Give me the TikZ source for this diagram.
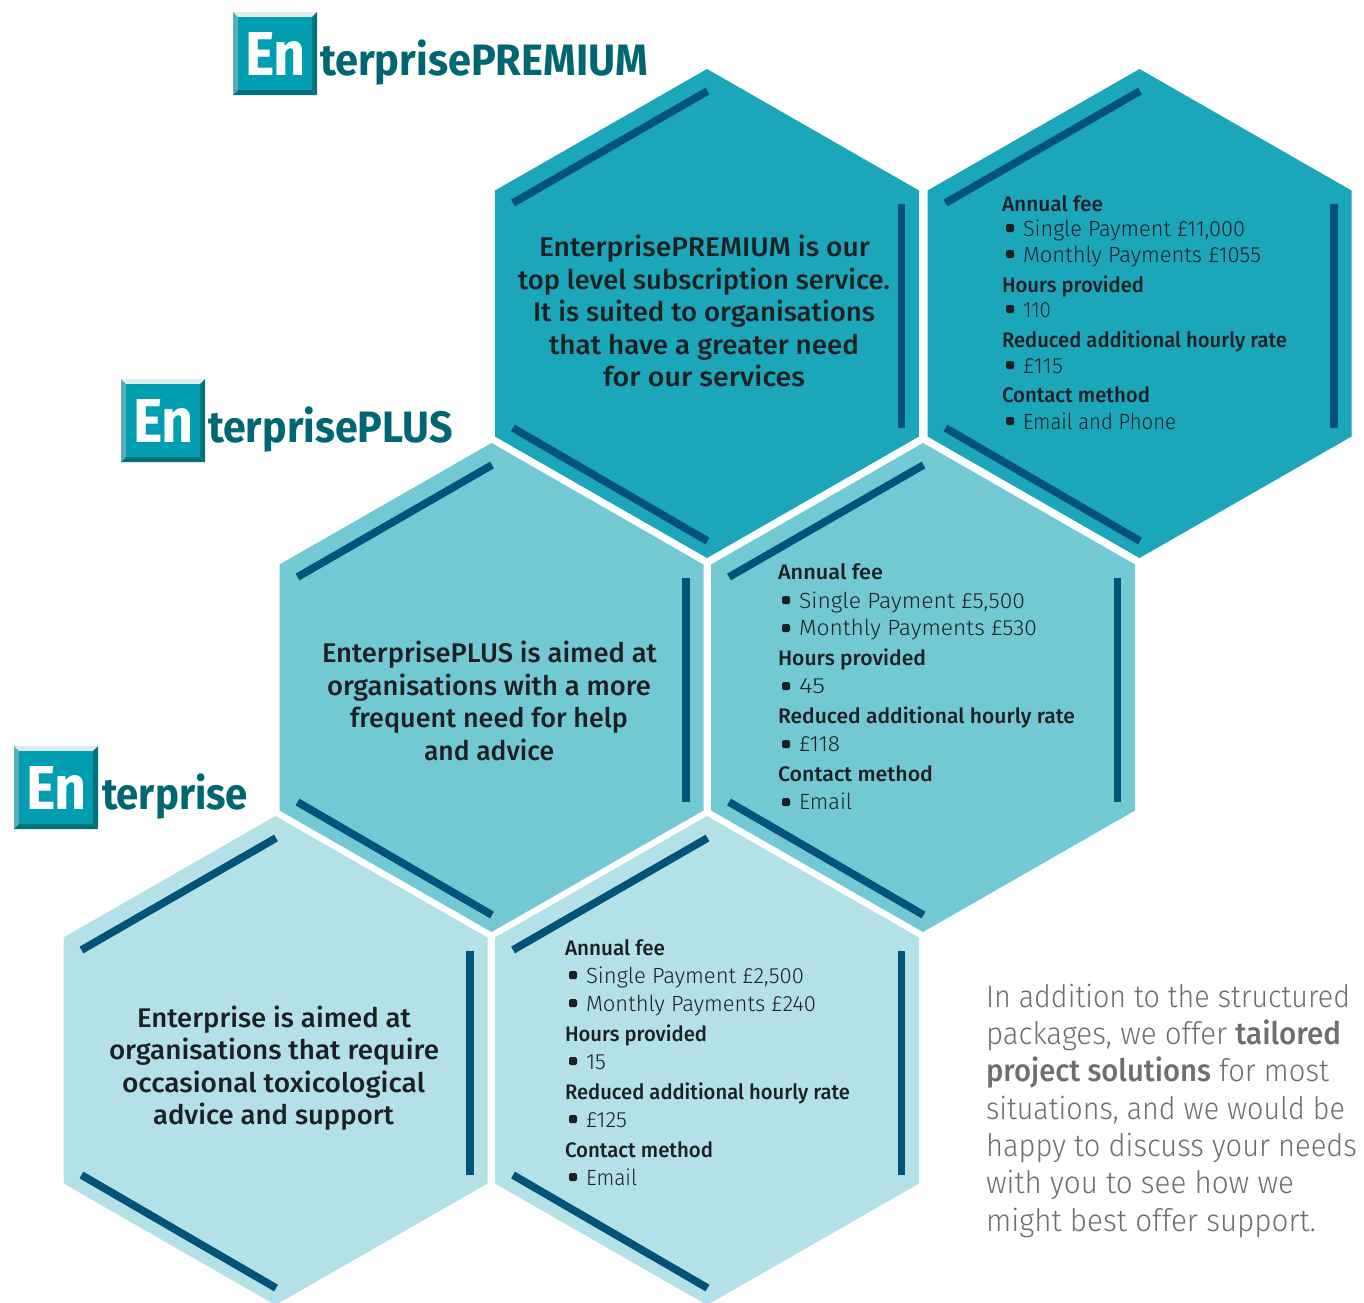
\documentclass[tikz,border=0pt]{standalone}
\usepackage{fontspec}
\usepackage{graphicx}
\setmainfont{Fira Sans}
\newfontfamily\litefont{Fira Sans Light}
\newfontfamily\medfont{Fira Sans Medium}
\newfontfamily\boldfont{Fira Sans Bold}
\definecolor{hexprem}{HTML}{1BA6B9}
\definecolor{hexplus}{HTML}{73C9D3}
\definecolor{hexent}{HTML}{B4E1E7}
\definecolor{accentbar}{HTML}{02527A}
\definecolor{inktext}{HTML}{1D2022}
\definecolor{greytext}{HTML}{6D6E71}
\definecolor{logoteal}{HTML}{006772}
\definecolor{logoface}{HTML}{009EB0}
\definecolor{bevtop}{HTML}{DFECEF}
\definecolor{bevleft}{HTML}{5AACBC}
\definecolor{bevright}{HTML}{02727F}
\definecolor{bevbot}{HTML}{026F7C}
\newsavebox\fitbox
\newcommand\fitw[2]{\sbox\fitbox{#2}\pgfmathsetmacro\fitr{#1/\wd\fitbox}\scalebox{\fitr}[1]{\usebox\fitbox}}
\tikzset{
  txt/.style={inner sep=0pt,outer sep=0pt,anchor=base west},
  headline/.style={txt,text=inktext,font=\medfont\fontsize{27}{30}\selectfont},
  boldline/.style={txt,text=inktext,font=\medfont\fontsize{21}{24}\selectfont},
  itemline/.style={txt,text=inktext,font=\litefont\fontsize{22}{24}\selectfont},
  paraline/.style={txt,text=greytext,font=\litefont\fontsize{31}{34}\selectfont},
  logobig/.style={txt,text=white,font=\boldfont\fontsize{62}{64}\selectfont},
  logotext/.style={txt,text=logoteal,font=\boldfont\fontsize{44}{46}\selectfont},
  bar/.style={draw=accentbar,line width=7.7pt},
  dot/.style={fill=inktext,rounded corners=1.5pt},
}
% hexagon with its three accent bars
\newcommand\hexa[3]{%
  \fill[#3] (#1,#2-244.5) -- (#1+212,#2-123) -- (#1+212,#2+123) -- (#1,#2+244.5)
    -- (#1-212,#2+123) -- (#1-212,#2-123) -- cycle;
  \draw[bar] (#1-194,#2-110.5) -- (#1+0.5,#2-222.5);
  \draw[bar] (#1-194,#2+114.5) -- (#1+0.5,#2+227.5);
  \draw[bar] (#1+194.5,#2-110) -- (#1+194.5,#2+114);
}
% text line: name, x, baseline, width, style, text
\newcommand\tl[6]{\node[#5] (#1) at (#2,#3) {\fitw{#4}{#6}};}
% bullet: x, y of its centre
\newcommand\bul[2]{\fill[dot] (#1-4,#2-4) rectangle (#1+4,#2+4);}
% logo: name, x left, y top, text x, text width, text
\newcommand\logo[6]{%
  \fill[bevtop] (#2,#3) -- (#2+84,#3) -- (#2+79,#3+5) -- (#2+5,#3+5) -- cycle;
  \fill[bevleft] (#2,#3) -- (#2+5,#3+5) -- (#2+5,#3+78) -- (#2,#3+83) -- cycle;
  \fill[bevright] (#2+84,#3) -- (#2+84,#3+83) -- (#2+79,#3+78) -- (#2+79,#3+5) -- cycle;
  \fill[bevbot] (#2,#3+83) -- (#2+5,#3+78) -- (#2+79,#3+78) -- (#2+84,#3+83) -- cycle;
  \fill[logoface] (#2+5,#3+5) rectangle (#2+79,#3+78);
  \node[logobig] (#1a) at (#2+12,#3+63) {\fitw{61}{En}};
  \node[logotext] (#1b) at (#4,#3+63) {\fitw{#5}{#6}};
}
\begin{document}
\begin{tikzpicture}[x=1pt,y=-1pt]
\useasboundingbox (0,0) rectangle (1364,1302);
\clip (0,0) rectangle (1364,1302);
\hexa{707}{313.5}{hexprem}
\hexa{1139.5}{313.5}{hexprem}
\hexa{491.5}{687.5}{hexplus}
\hexa{923}{687.5}{hexplus}
\hexa{275.5}{1060.5}{hexent}
\hexa{707}{1060.5}{hexent}
\logo{lp}{233}{12}{320}{328}{terprisePREMIUM}
\logo{lu}{121}{379}{208}{245}{terprisePLUS}
\logo{le}{14}{746}{102}{146}{terprise}
% premium
\tl{pa}{539}{256}{331}{headline}{EnterprisePREMIUM is our}
\tl{pb}{518}{289}{372}{headline}{top level subscription service.}
\tl{pc}{533}{321}{342}{headline}{It is suited to organisations}
\tl{pd}{549}{354}{310}{headline}{that have a greater need}
\tl{pe}{603}{386}{202}{headline}{for our services}
% plus
\tl{ua}{322}{662}{335}{headline}{EnterprisePLUS is aimed at}
\tl{ub}{327}{695}{324}{headline}{organisations with a more}
\tl{uc}{350}{727}{278}{headline}{frequent need for help}
\tl{ud}{424}{760}{130}{headline}{and advice}
% enterprise
\tl{ea}{137}{1027}{274}{headline}{Enterprise is aimed at}
\tl{eb}{109}{1059}{330}{headline}{organisations that require}
\tl{ec}{122}{1092}{303}{headline}{occasional toxicological}
\tl{ed}{153}{1124}{241}{headline}{advice and support}
% premium details
\tl{p1}{1002}{211}{101}{boldline}{Annual fee}
\tl{p2}{1023}{236}{222}{itemline}{Single Payment £11,000}
\tl{p3}{1023}{262}{238}{itemline}{Monthly Payments £1055}
\tl{p4}{1002}{292}{142}{boldline}{Hours provided}
\tl{p5}{1023}{317}{28}{itemline}{110}
\tl{p6}{1002}{347}{285}{boldline}{Reduced additional hourly rate}
\tl{p7}{1023}{373}{40}{itemline}{£115}
\tl{p8}{1002}{402}{148}{boldline}{Contact method}
\tl{p9}{1023}{429}{153}{itemline}{Email and Phone}
\bul{1010}{228}\bul{1010}{254}\bul{1010}{309}\bul{1010}{365}\bul{1010}{421}
% plus details
\tl{u1}{778}{579}{105}{boldline}{Annual fee}
\tl{u2}{799}{608}{226}{itemline}{Single Payment £5,500}
\tl{u3}{799}{635}{238}{itemline}{Monthly Payments £530}
\tl{u4}{778}{665}{148}{boldline}{Hours provided}
\tl{u5}{799}{693}{26}{itemline}{45}
\tl{u6}{778}{723}{297}{boldline}{Reduced additional hourly rate}
\tl{u7}{799}{751}{41}{itemline}{£118}
\tl{u8}{778}{781}{155}{boldline}{Contact method}
\tl{u9}{799}{809}{53}{itemline}{Email}
\bul{786}{600}\bul{786}{628}\bul{786}{686}\bul{786}{744}\bul{786}{802}
% enterprise details
\tl{e1}{565}{955}{100}{boldline}{Annual fee}
\tl{e2}{586}{983}{218}{itemline}{Single Payment £2,500}
\tl{e3}{586}{1011}{230}{itemline}{Monthly Payments £240}
\tl{e4}{565}{1041}{142}{boldline}{Hours provided}
\tl{e5}{586}{1069}{20}{itemline}{15}
\tl{e6}{565}{1099}{285}{boldline}{Reduced additional hourly rate}
\tl{e7}{586}{1127}{41}{itemline}{£125}
\tl{e8}{565}{1157}{148}{boldline}{Contact method}
\tl{e9}{586}{1185}{51}{itemline}{Email}
\bul{573}{975}\bul{573}{1003}\bul{573}{1061}\bul{573}{1119}\bul{573}{1177}
% paragraph
\tl{n1}{986}{1007}{364}{paraline}{In addition to the structured}
\tl{n2}{986}{1044}{355}{paraline}{packages, we offer {\medfont tailored}}
\tl{n3}{986}{1081}{343}{paraline}{{\medfont project solutions} for most}
\tl{n4}{986}{1119}{359}{paraline}{situations, and we would be}
\tl{n5}{986}{1156}{371}{paraline}{happy to discuss your needs}
\tl{n6}{986}{1193}{308}{paraline}{with you to see how we}
\tl{n7}{986}{1231}{330}{paraline}{might best offer support.}
\end{tikzpicture}
\end{document}
